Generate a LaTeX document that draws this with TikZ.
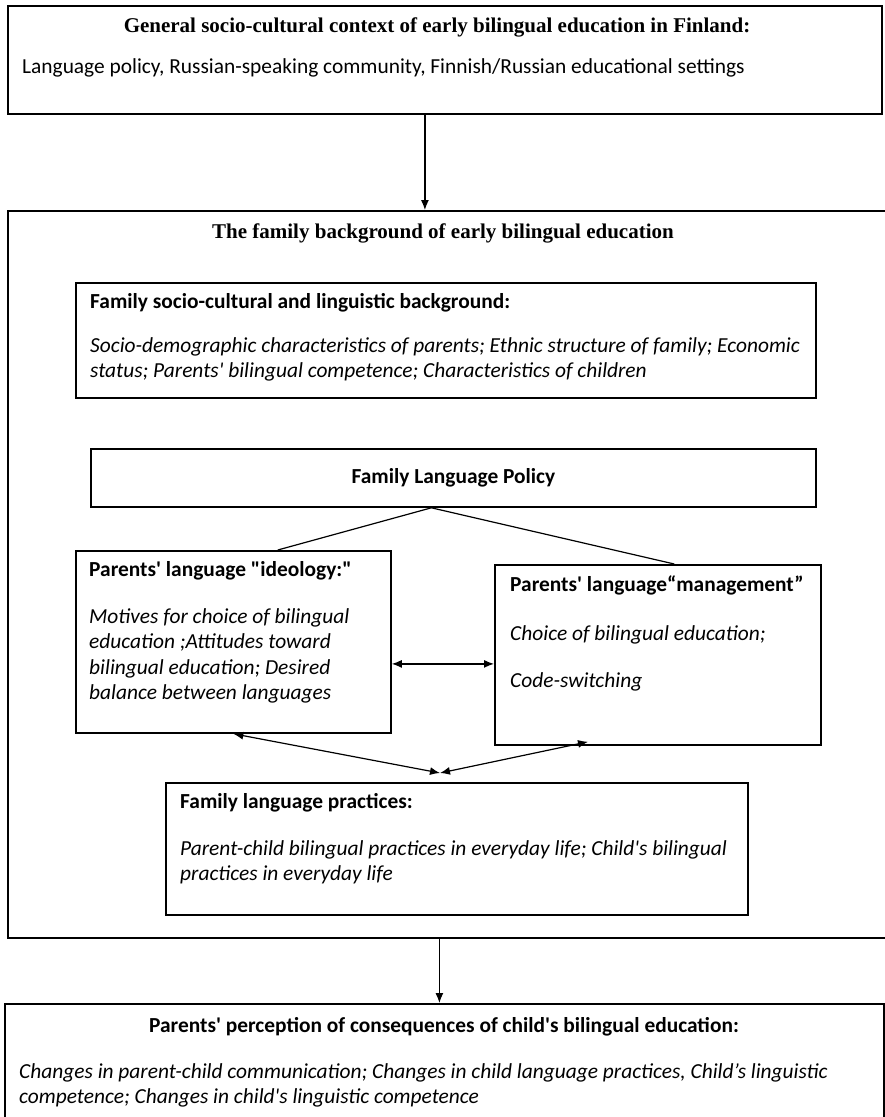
\documentclass[tikz,border=0pt]{standalone}
\usepackage{fontspec}
\setmainfont{Liberation Serif}
\newfontfamily\calibrifont{Carlito}
\usetikzlibrary{positioning, calc, arrows.meta}
\tikzstyle{frame} = [rectangle, draw, line width=1.8pt, anchor=north west, inner sep=0pt]
\tikzstyle{serifhead} = [font=\bfseries\fontsize{21}{25}\selectfont, inner sep=0pt]
\tikzstyle{head} = [font=\calibrifont\bfseries\fontsize{21.4}{25.5}\selectfont, anchor=west, inner sep=0pt]
\tikzstyle{plain} = [font=\calibrifont\fontsize{21.4}{25.5}\selectfont, anchor=west, inner sep=0pt]
\tikzstyle{body} = [font=\calibrifont\itshape\fontsize{21.4}{25.5}\selectfont, anchor=north west, align=left, inner sep=0pt]
\tikzstyle{link} = [draw, line width=1.2pt]
\tikzstyle{line} = [draw, line width=1.2pt, -{Latex[length=10pt,width=8pt]}]
\tikzstyle{both} = [draw, line width=1.2pt, {Latex[length=10pt,width=8pt]}-{Latex[length=10pt,width=8pt]}]

\begin{document}
\begin{tikzpicture}[x=1pt, y=-1pt]
	\useasboundingbox (0,0) rectangle (884,1117);
	% Place boxes
	\node [frame, minimum width=874pt, minimum height=108pt] (ctx) at (7,5) {};
	\node [frame, minimum width=890pt, minimum height=727pt] (fam) at (7,210) {};
	\node [frame, minimum width=740pt, minimum height=115pt] (bg) at (75,282) {};
	\node [frame, minimum width=725pt, minimum height=58pt] (flp) at (90,448) {};
	\node [frame, minimum width=315pt, minimum height=182pt] (ideo) at (75,550) {};
	\node [frame, minimum width=326pt, minimum height=180pt] (mgmt) at (494,564) {};
	\node [frame, minimum width=582pt, minimum height=132pt] (prac) at (165,782) {};
	\node [frame, minimum width=879pt, minimum height=125pt] (persp) at (4,1003) {};
	%
	\node [serifhead] (ctxhead) at (437,27) {General socio-cultural context of early bilingual education in Finland:};
	\node [plain] (ctxbody) at (22,68) {Language policy, Russian-speaking community, Finnish/Russian educational settings};
	
	\node [serifhead] (famhead) at (443,233) {The family background of early bilingual education};
	
	\node [head] (bghead) at (90,303) {Family socio-cultural and linguistic background:};
	\node [body] (bgbody) at (90,337) {Socio-demographic characteristics of parents; Ethnic structure of family; Economic\\
		status; Parents' bilingual competence; Characteristics of children};
	
	\node [head, anchor=center] (flphead) at (flp.center) {Family Language Policy};
	
	\node [head] (ideohead) at (89,571) {Parents' language "ideology:"};
	\node [body] (ideobody) at (89,608) {Motives for choice of bilingual\\
		education ;Attitudes toward\\
		bilingual education; Desired\\
		balance between languages};
	
	\node [head] (mgmthead) at (510,585) {Parents' language“management”};
	\node [body] (mgmtbody) at (510,625) {Choice of bilingual education;\\[21.5pt]
		Code-switching};
	
	\node [head] (prachead) at (180,803) {Family language practices:};
	\node [body] (pracbody) at (180,840) {Parent-child bilingual practices in everyday life; Child's bilingual\\
		practices in everyday life};
	
	\node [head, anchor=center] (persphead) at (444,1027) {Parents' perception of consequences of child's bilingual education:};
	\node [body] (perspbody) at (19,1063) {Changes in parent-child communication; Changes in child language practices, Child’s linguistic\\
		competence; Changes in child's linguistic competence};
	
	% Connectors
	\path [line] ([xshift=-20pt]ctx.south) -- ([xshift=-20pt]ctx.south |- fam.north);
	\path [line] ([xshift=-5pt]persp.north |- fam.south) -- ([xshift=-5pt]persp.north);
	
	\coordinate (fork) at ([xshift=-22pt]flp.south);
	\path [link] (fork) -- ($(ideo.north west)!0.64!(ideo.north east)$);
	\path [link] (fork) -- ($(mgmt.north west)!0.55!(mgmt.north east)$);
	
	\path [both] ([yshift=-22pt]ideo.east) -- ([yshift=-22pt]ideo.east -| mgmt.west);
	
	\coordinate (meet) at (440,773);
	\path [both] (ideo.south) -- (meet);
	\path [both] (meet) -- ([xshift=94pt,yshift=4pt]mgmt.south west);
\end{tikzpicture}
\end{document}
